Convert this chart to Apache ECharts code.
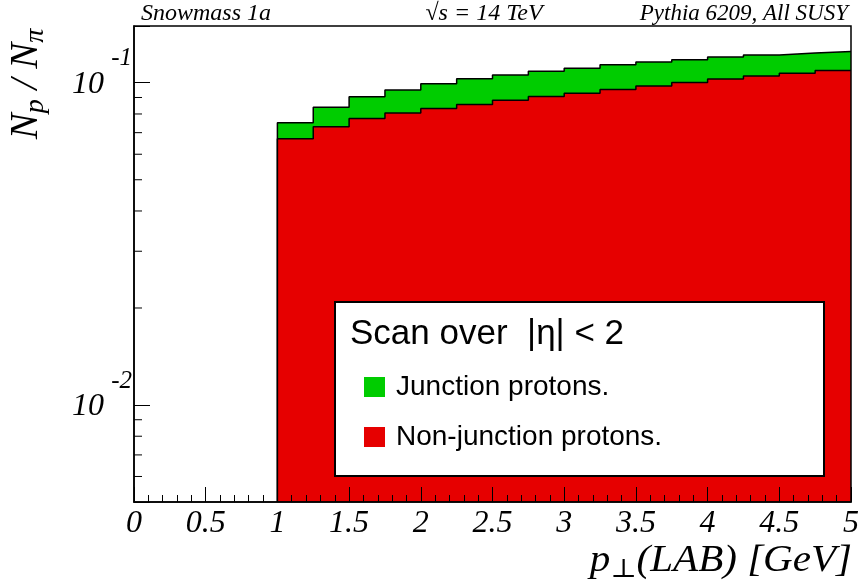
<!DOCTYPE html>
<html><head><meta charset="utf-8">
<script src="https://cdn.jsdelivr.net/npm/echarts@6/dist/echarts.min.js"></script>
<style>html,body{margin:0;padding:0;background:#fff}#c{width:862px;height:585px}</style>
</head><body><div id="c"></div>
<script>
// ---- data ----
const binEdges = [1, 1.25, 1.5, 1.75, 2, 2.25, 2.5, 2.75, 3, 3.25, 3.5, 3.75, 4, 4.25, 4.5, 4.75, 5];
const nonJunction = [0.0670, 0.0730, 0.0775, 0.0805, 0.0832, 0.0856, 0.0882, 0.0906, 0.0928, 0.0953, 0.0977, 0.1001, 0.1028, 0.1050, 0.1070, 0.1091];
const junction    = [0.0082, 0.0109, 0.0130, 0.0144, 0.0161, 0.0173, 0.0175, 0.0179, 0.0181, 0.0184, 0.0182, 0.0178, 0.0173, 0.0170, 0.0166, 0.0160];
const yMajorTicks = [0.01, 0.1];
const yMinorTicks = [0.006, 0.007, 0.008, 0.009, 0.02, 0.03, 0.04, 0.05, 0.06, 0.07, 0.08, 0.09];
const Y_MIN = 0.005, Y_MAX = 0.15;
const X_MIN = 0, X_MAX = 5;

const RED = '#e60000', GREEN = '#00cc00';
const SERIF = '"Liberation Serif", "DejaVu Serif", serif';
const SANS = '"Liberation Sans", Arial, sans-serif';

const total = nonJunction.map((v, i) => v + junction[i]);
function stepData(vals) {
  const d = [[binEdges[0], Y_MIN]];
  vals.forEach((v, i) => d.push([binEdges[i], v]));
  d.push([binEdges[vals.length], vals[vals.length - 1]]);
  return d;
}

const chart = echarts.init(document.getElementById('c'), null, {renderer: 'canvas'});
const option = {
  animation: false,
  backgroundColor: '#fff',
  grid: {left: 134, right: 10, top: 26, bottom: 83, show: true, borderColor: '#000', borderWidth: 1.5, z: 5},
  xAxis: {
    type: 'value', min: X_MIN, max: X_MAX, interval: 0.5, z: 6,
    axisLine: {lineStyle: {color: '#000', width: 1.5}},
    axisTick: {inside: true, length: 15, lineStyle: {color: '#000', width: 1}},
    minorTick: {show: true, splitNumber: 5, length: 7, lineStyle: {color: '#000', width: 1}},
    axisLabel: {fontFamily: SERIF, fontStyle: 'italic', fontSize: 32, color: '#000', margin: 6, formatter: v => String(v)},
    splitLine: {show: false}
  },
  yAxis: {
    type: 'log', logBase: 10, min: Y_MIN, max: Y_MAX, z: 6,
    axisLine: {show: true, lineStyle: {color: '#000', width: 1.5}},
    axisTick: {inside: true, length: 16, lineStyle: {color: '#000', width: 1}},
    axisLabel: {show: false},
    minorTick: {show: false},
    splitLine: {show: false}
  },
  legend: {
    data: [{name: 'Junction protons.', itemStyle: {color: GREEN}}, {name: 'Non-junction protons.', itemStyle: {color: RED}}],
    orient: 'vertical', left: 364, top: 373, icon: 'rect', itemWidth: 21, itemHeight: 20, itemGap: 22,
    padding: 0, selectedMode: false, z: 200,
    itemStyle: {borderWidth: 0},
    textStyle: {fontFamily: SANS, fontSize: 28, color: '#000', padding: [0, 0, 0, 6]}
  },
  series: [
    {
      type: 'line', name: 'Junction protons.', data: stepData(total), step: 'end', symbol: 'none', z: 2,
      lineStyle: {color: '#000', width: 1.5}, itemStyle: {color: GREEN},
      areaStyle: {color: GREEN, opacity: 1, origin: 'start'}
    },
    {
      type: 'line', name: 'Non-junction protons.', data: stepData(nonJunction), step: 'end', symbol: 'none', z: 3,
      lineStyle: {color: '#000', width: 1.5}, itemStyle: {color: RED},
      areaStyle: {color: RED, opacity: 1, origin: 'start'}
    },
    {
      type: 'custom', name: 'yMinor', coordinateSystem: 'cartesian2d', silent: true, clip: false, z: 7,
      data: yMinorTicks.map(v => [X_MIN, v]),
      renderItem: (params, api) => {
        const p = api.coord([X_MIN, api.value(1)]);
        return {type: 'line', shape: {x1: p[0], y1: p[1], x2: p[0] + 8, y2: p[1]}, style: {stroke: '#000', lineWidth: 1}};
      }
    },
    {
      type: 'custom', name: 'yLabels', coordinateSystem: 'cartesian2d', silent: true, clip: false, z: 7,
      data: yMajorTicks.map(v => [X_MIN, v]),
      renderItem: (params, api) => {
        const v = api.value(1);
        const p = api.coord([X_MIN, v]);
        const e = Math.round(Math.log10(v));
        return {type: 'group', children: [
          {type: 'text', x: p[0] - 30, y: p[1] + 2, style: {text: '10', fontFamily: SERIF, fontStyle: 'italic', fontSize: 32, fill: '#000', align: 'right', verticalAlign: 'middle'}},
          {type: 'text', x: p[0] - 2, y: p[1] - 24, style: {text: String(e), fontFamily: SERIF, fontStyle: 'italic', fontSize: 25, fill: '#000', align: 'right', verticalAlign: 'middle'}}
        ]};
      }
    }
  ],
  graphic: [
    {type: 'rect', z: 100, shape: {x: 335, y: 302, width: 489, height: 174}, style: {fill: '#fff', stroke: '#000', lineWidth: 2}},
    {type: 'text', z: 101, x: 350, y: 334, style: {text: 'Scan over  |\u03b7| < 2', fontFamily: SANS, fontSize: 35, fill: '#000', align: 'left', verticalAlign: 'middle'}},
    {type: 'text', z: 101, x: 141, y: 14, style: {text: 'Snowmass 1a', fontFamily: SERIF, fontStyle: 'italic', fontSize: 24, fill: '#000', align: 'left', verticalAlign: 'middle'}},
    {type: 'text', z: 101, x: 484, y: 14, style: {text: '\u221As = 14 TeV', fontFamily: SERIF, fontStyle: 'italic', fontSize: 24, fill: '#000', align: 'center', verticalAlign: 'middle'}},
    {type: 'text', z: 101, x: 848, y: 14, style: {text: 'Pythia 6209, All SUSY', fontFamily: SERIF, fontStyle: 'italic', fontSize: 23, fill: '#000', align: 'right', verticalAlign: 'middle'}},
    {type: 'text', z: 101, x: 852, y: 561, scaleX: 1.08, style: {
      text: '{i|p}{s|\u22A5}{i|(LAB) [GeV]}', align: 'right', verticalAlign: 'middle',
      rich: {
        i: {fontFamily: SERIF, fontStyle: 'italic', fontSize: 38, lineHeight: 44, verticalAlign: 'middle', fill: '#000'},
        s: {fontFamily: SERIF, fontStyle: 'normal', fontSize: 26, lineHeight: 20, verticalAlign: 'bottom', fill: '#000'}
      }}},
    {type: 'text', z: 101, x: 27, y: 84, rotation: Math.PI / 2, style: {
      text: '{n|N}{s|p}{n| / N}{s|\u03c0}', align: 'center', verticalAlign: 'middle',
      rich: {
        n: {fontFamily: SERIF, fontStyle: 'italic', fontSize: 39, lineHeight: 46, verticalAlign: 'middle', fill: '#000'},
        s: {fontFamily: SERIF, fontStyle: 'italic', fontSize: 28, lineHeight: 22, verticalAlign: 'bottom', fill: '#000'}
      }}}
  ]
};
chart.setOption(option);
</script>
</body></html>
